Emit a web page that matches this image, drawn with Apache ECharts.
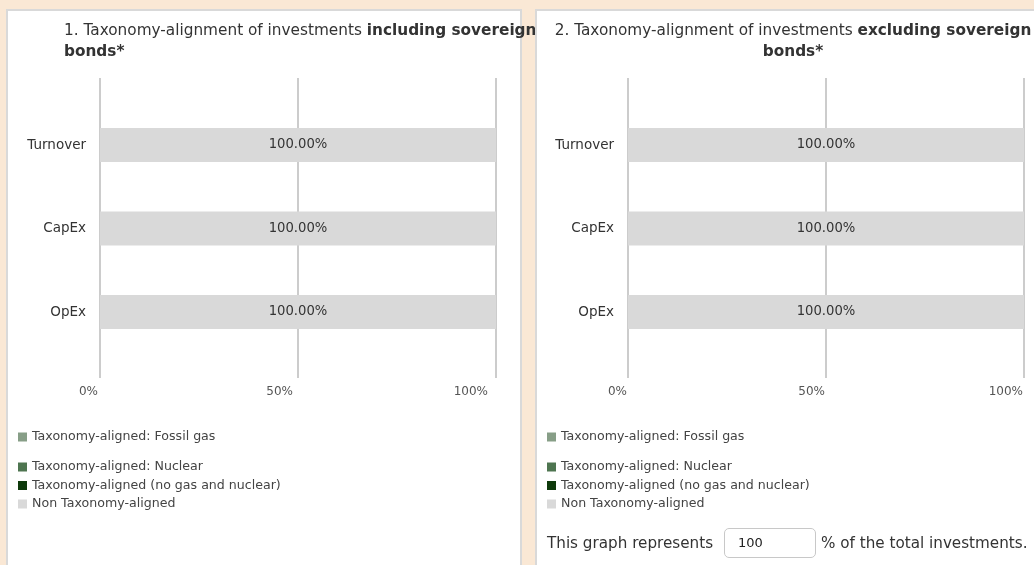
<!DOCTYPE html>
<html><head><meta charset="utf-8">
<script src="https://cdn.jsdelivr.net/npm/echarts@6/dist/echarts.min.js"></script>
<style>
html,body{margin:0;padding:0;background:#fae8d5;width:1034px;height:565px;overflow:hidden;font-family:'DejaVu Sans',sans-serif;}
.panel{position:absolute;top:9px;height:600px;background:#fff;border:2px solid #d9d9d9;box-sizing:border-box;}
#p1{left:6px;width:516px;z-index:1;}
#c1{position:absolute;left:6px;top:9px;width:560px;height:556px;z-index:2;}
#p2{left:535px;width:516px;z-index:3;}
#c2{position:absolute;left:535px;top:9px;width:516px;height:556px;z-index:4;}
.nt{position:absolute;z-index:5;font-size:15.2px;color:#333;line-height:30px;top:528px;height:30px;white-space:nowrap;}
#box{position:absolute;z-index:5;left:724px;top:528px;width:92px;height:30px;box-sizing:border-box;border:1px solid #c8c8c8;border-radius:5px;background:#fff;font-size:13px;color:#222;line-height:28px;padding-left:13px;}
</style></head>
<body>
<div class="panel" id="p1"></div>
<div id="c1"></div>
<div class="panel" id="p2"></div>
<div id="c2"></div>
<span class="nt" style="left:547px">This graph represents</span>
<div id="box">100</div>
<span class="nt" style="left:821px">% of the total investments.</span>
<script>
const categories = ['Turnover', 'CapEx', 'OpEx'];
const seriesNames = [
  'Taxonomy-aligned (no gas and nuclear)',
  'Taxonomy-aligned: Fossil gas',
  'Taxonomy-aligned: Nuclear',
  'Non Taxonomy-aligned'
];
const seriesColors = ['#0e3a0b', '#879e87', '#4e7550', '#d9d9d9'];
// Chart 1: including sovereign bonds
const incl_noGasNuclear = [0, 0, 0];
const incl_fossilGas = [0, 0, 0];
const incl_nuclear = [0, 0, 0];
const incl_nonAligned = [100, 100, 100];
// Chart 2: excluding sovereign bonds
const excl_noGasNuclear = [0, 0, 0];
const excl_fossilGas = [0, 0, 0];
const excl_nuclear = [0, 0, 0];
const excl_nonAligned = [100, 100, 100];
const xTickStep = 50;

const FONT = 'DejaVu Sans';

function buildOption(cfg, values) {
  const series = seriesNames.map((name, i) => ({
    name: name,
    type: 'bar',
    stack: 'total',
    xAxisIndex: 0, yAxisIndex: 0,
    barWidth: 34,
    itemStyle: { color: seriesColors[i] },
    label: {
      show: true, position: 'inside', color: '#333', fontSize: 13.2, fontFamily: FONT,
      formatter: p => p.value > 0 ? p.value.toFixed(2) + '%' : ''
    },
    data: values[i]
  }));
  const title = {
    text: cfg.titleText,
    left: cfg.titleLeft, top: 12, padding: 0,
    textStyle: {
      fontFamily: FONT, fontSize: 15.3, fontWeight: 'normal', color: '#333', lineHeight: 21,
      rich: { b: { fontFamily: FONT, fontSize: 15.3, fontWeight: 'bold', color: '#333', lineHeight: 21 } }
    }
  };
  if (cfg.titleAlign) title.textAlign = cfg.titleAlign;
  return {
    animation: false,
    textStyle: { fontFamily: FONT },
    title: title,
    legend: [
      {
        data: [seriesNames[1]], orient: 'vertical', left: 12, top: 421, padding: 0,
        icon: 'rect', itemWidth: 9, itemHeight: 9, itemGap: 5, selectedMode: false,
        textStyle: { fontFamily: FONT, fontSize: 12.6, color: '#444', lineHeight: 14 }
      },
      {
        data: [seriesNames[2], seriesNames[0], seriesNames[3]], orient: 'vertical', left: 12, top: 451, padding: 0,
        icon: 'rect', itemWidth: 9, itemHeight: 9, itemGap: 4.5, selectedMode: false,
        textStyle: { fontFamily: FONT, fontSize: 12.6, color: '#444', lineHeight: 14 }
      }
    ],
    grid: [
      { left: cfg.gridLeft, width: 396, top: 94.25, height: 250.5 },
      { left: cfg.gridLeft, width: 396, top: 69, height: 300 },
      { left: cfg.labelLeft, width: cfg.labelWidth, top: 368, height: 1 }
    ],
    xAxis: [
      { gridIndex: 0, type: 'value', min: 0, max: 100, interval: xTickStep,
        axisLine: { show: false }, axisTick: { show: false }, axisLabel: { show: false }, splitLine: { show: false } },
      { gridIndex: 1, type: 'value', min: 0, max: 100, interval: xTickStep,
        axisLine: { show: false }, axisTick: { show: false }, axisLabel: { show: false },
        splitLine: { show: true, lineStyle: { color: '#cccccc', width: 2 } } },
      { gridIndex: 2, type: 'value', min: 0, max: 100, interval: xTickStep,
        axisLine: { show: false }, axisTick: { show: false }, splitLine: { show: false },
        axisLabel: { show: true, formatter: '{value}%', align: 'right', verticalAlign: 'middle', margin: 14,
          fontFamily: FONT, fontSize: 12, color: '#555' } }
    ],
    yAxis: [
      { gridIndex: 0, type: 'category', data: categories, inverse: true,
        axisLine: { show: false }, axisTick: { show: false }, splitLine: { show: false },
        axisLabel: { margin: 14, fontFamily: FONT, fontSize: 13.5, color: '#333' } },
      { gridIndex: 1, type: 'value', show: false },
      { gridIndex: 2, type: 'value', show: false }
    ],
    series: series
  };
}

const c1 = echarts.init(document.getElementById('c1'), null, { renderer: 'canvas' });
c1.setOption(buildOption({
  titleText: '1. Taxonomy-alignment of investments {b|including sovereign}\n{b|bonds*}',
  titleLeft: 58, titleAlign: 'left',
  gridLeft: 94, labelLeft: 92, labelWidth: 390
}, [incl_noGasNuclear, incl_fossilGas, incl_nuclear, incl_nonAligned]));

const c2 = echarts.init(document.getElementById('c2'), null, { renderer: 'canvas' });
c2.setOption(buildOption({
  titleText: '2. Taxonomy-alignment of investments {b|excluding sovereign}\n{b|bonds*}',
  titleLeft: 'center', titleAlign: null,
  gridLeft: 93, labelLeft: 92, labelWidth: 396
}, [excl_noGasNuclear, excl_fossilGas, excl_nuclear, excl_nonAligned]));
</script>
</body></html>
